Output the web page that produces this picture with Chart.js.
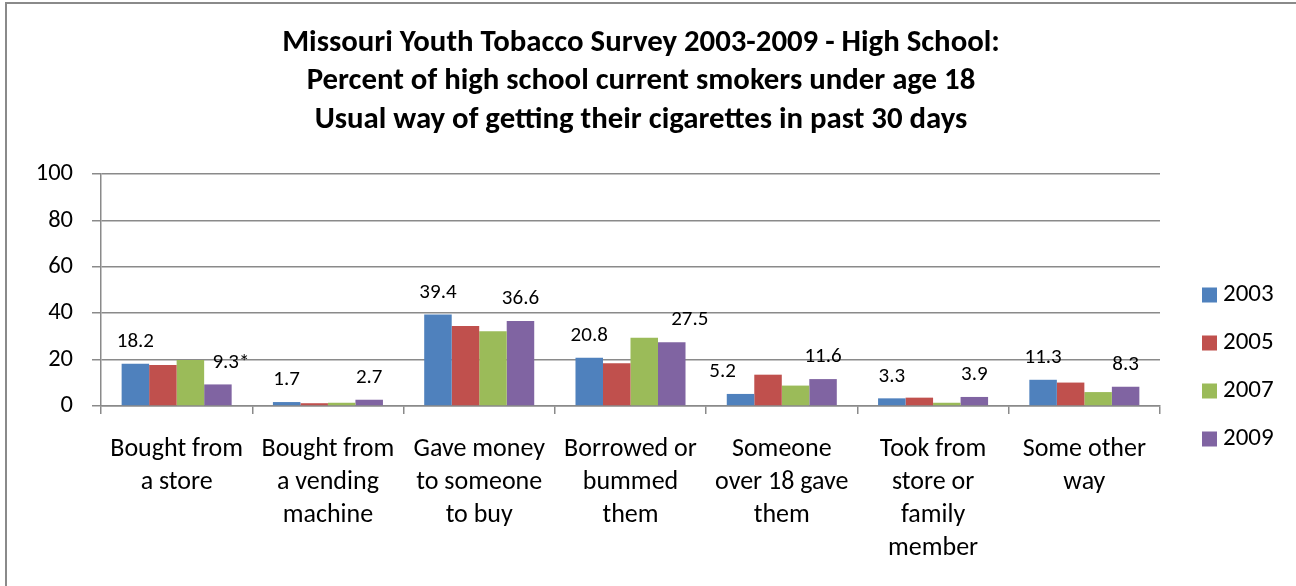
<!DOCTYPE html>
<html>
<head>
<meta charset="utf-8">
<script src="https://cdn.jsdelivr.net/npm/chart.js@4/dist/chart.umd.min.js"></script>
<style>
  html, body { margin: 0; padding: 0; background: #fff; overflow: hidden; }
  body { width: 1296px; height: 586px; position: relative; }
  #frame {
    position: absolute; left: 5px; top: 2px; right: -20px; bottom: -20px;
    border-left: 2px solid #8a8a8a; border-top: 2px solid #8a8a8a;
  }
  #plot { position: absolute; left: 6px; top: 0; }
</style>
</head>
<body>
<div id="frame"></div>
<canvas id="plot" width="1270" height="586"></canvas>
<script>
// Ways high school smokers under 18 usually got cigarettes (percent)
const categories = [
  ['Bought from', 'a store'],
  ['Bought from', 'a vending', 'machine'],
  ['Gave money', 'to someone', 'to buy'],
  ['Borrowed or', 'bummed', 'them'],
  ['Someone', 'over 18 gave', 'them'],
  ['Took from', 'store or', 'family', 'member'],
  ['Some other', 'way']
];
const years = ['2003', '2005', '2007', '2009'];
const pct2003 = [18.2, 1.7, 39.4, 20.8, 5.2, 3.3, 11.3];
const pct2005 = [17.7, 1.2, 34.5, 18.4, 13.5, 3.6, 10.1];
const pct2007 = [19.8, 1.4, 32.2, 29.4, 8.8, 1.4, 6.0];
const pct2009 = [9.3, 2.7, 36.6, 27.5, 11.6, 3.9, 8.3];
const notes2009 = ['*', '', '', '', '', '', ''];
const yTickValues = [0, 20, 40, 60, 80, 100];

const FONT = 'Calibri, Carlito, Lato, "Open Sans", sans-serif';
const GRID = '#8a8a8a';

// Value labels above the 2003 and 2009 bars
const valueLabels = {
  id: 'valueLabels',
  afterDatasetsDraw(chart, args, opts) {
    const ctx = chart.ctx;
    ctx.save();
    ctx.font = `${opts.size}px ${FONT}`;
    ctx.fillStyle = '#000';
    ctx.textAlign = 'center';
    ctx.textBaseline = 'middle';
    chart.data.datasets.forEach((ds, di) => {
      if (!ds.showValues) return;
      const shift = opts.shift[ds.label] || {};
      chart.getDatasetMeta(di).data.forEach((bar, i) => {
        const text = ds.data[i].toFixed(1) + (ds.notes ? ds.notes[i] : '');
        ctx.fillText(text, bar.x + (shift[i] || 0), bar.y - opts.gap);
      });
    });
    ctx.restore();
  }
};

// Legend column to the right of the plot
const sideLegend = {
  id: 'sideLegend',
  afterDraw(chart, args, opts) {
    const ctx = chart.ctx;
    const left = chart.chartArea.right + opts.offset;
    ctx.save();
    ctx.font = `${opts.size}px ${FONT}`;
    ctx.textBaseline = 'middle';
    ctx.textAlign = 'left';
    chart.data.datasets.forEach((ds, i) => {
      const cy = opts.top + i * opts.spacing;
      ctx.fillStyle = ds.backgroundColor;
      ctx.fillRect(left, cy - opts.box / 2, opts.box, opts.box);
      ctx.fillStyle = '#000';
      ctx.fillText(ds.label, left + opts.box + opts.gap, cy);
    });
    ctx.restore();
  }
};

const colors = ['#4F81BD', '#C0504D', '#9BBB59', '#8064A2'];
const series = [pct2003, pct2005, pct2007, pct2009];

new Chart(document.getElementById('plot'), {
  type: 'bar',
  data: {
    labels: categories,
    datasets: years.map((y, i) => ({
      label: y,
      data: series[i],
      backgroundColor: colors[i],
      borderWidth: 0,
      categoryPercentage: 4 / 5.5,
      barPercentage: 1.0,
      showValues: i === 0 || i === 3,
      notes: i === 3 ? notes2009 : null
    }))
  },
  options: {
    responsive: false,
    animation: false,
    events: [],
    layout: { padding: { left: 0, right: 0, top: 0, bottom: 20 } },
    plugins: {
      legend: { display: false },
      tooltip: { enabled: false },
      title: {
        display: true,
        text: [
          'Missouri Youth Tobacco Survey 2003-2009 - High School:',
          'Percent of high school current smokers under age 18',
          'Usual way of getting their cigarettes in past 30 days'
        ],
        color: '#000',
        font: { family: FONT, size: 30.8, weight: 'bold', lineHeight: '38.5px' },
        padding: { top: 24, bottom: 34.5 }
      },
      valueLabels: { size: 21, gap: 22, shift: { '2009': { 0: 13, 3: 18 }, '2003': { 4: -18 } } },
      sideLegend: { size: 25, box: 15, gap: 6, offset: 42, top: 295, spacing: 48 }
    },
    scales: {
      x: {
        grid: { display: true, offset: true, drawOnChartArea: false, drawTicks: true, tickLength: 8, color: GRID, lineWidth: 1.5 },
        border: { display: true, color: GRID, width: 1.5 },
        ticks: {
          color: '#000', padding: 18.5, maxRotation: 0, minRotation: 0, autoSkip: false,
          font: { family: FONT, size: 26, lineHeight: '33px' }
        },
        afterFit(scale) { scale.height = 160; }
      },
      y: {
        min: 0, max: 100,
        afterBuildTicks(scale) { scale.ticks = yTickValues.map(v => ({ value: v })); },
        grid: { color: GRID, lineWidth: 1.5, tickLength: 9, drawTicks: true },
        border: { display: true, color: GRID, width: 1.5 },
        ticks: { color: '#000', padding: 19, font: { family: FONT, size: 24.5 } },
        afterFit(scale) { scale.width = 95; }
      },
      // empty right-hand band that leaves room for the legend column
      legendBand: {
        position: 'right',
        display: true,
        grid: { display: false, drawTicks: false },
        border: { display: false },
        ticks: { display: false },
        afterFit(scale) { scale.width = 116; }
      }
    }
  },
  plugins: [valueLabels, sideLegend]
});
</script>
</body>
</html>
